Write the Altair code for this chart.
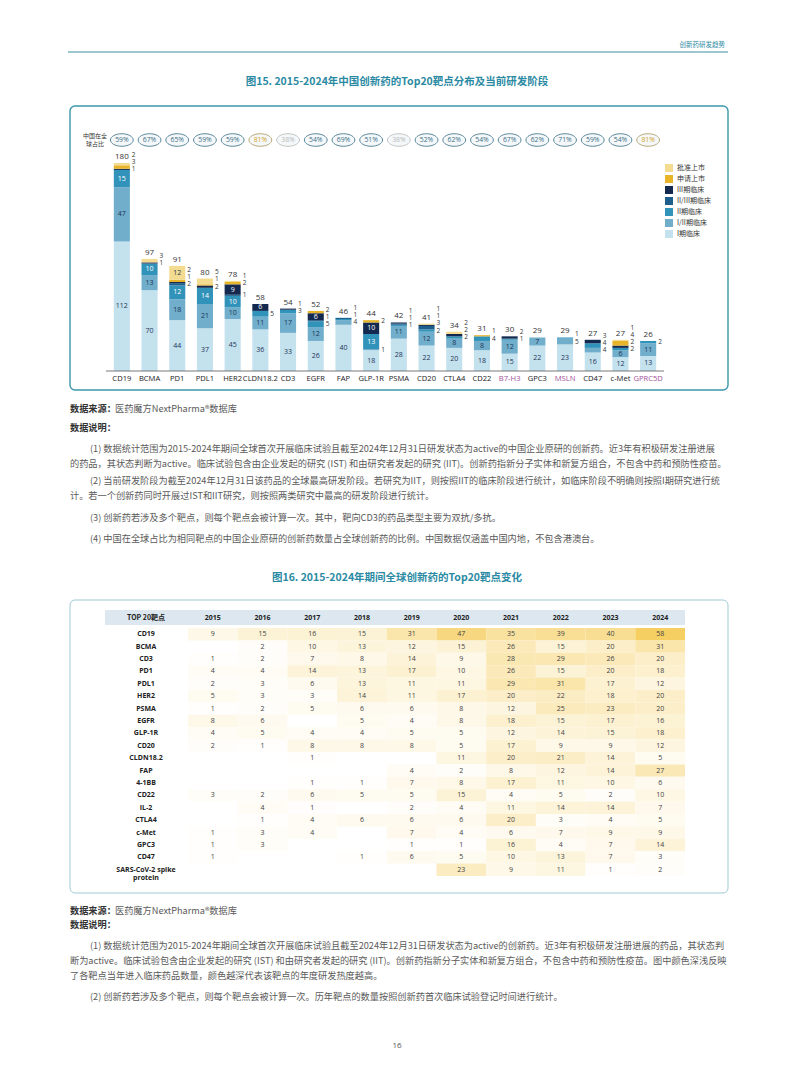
import altair as alt
import pandas as pd

CJK = "Noto Sans CJK SC"
LAT = "Open Sans"
TEAL = "#2b8aa3"
BODY = "#5a5a5a"
HEAD = "#333333"

# ---------------- Figure 15 data ----------------
targets = ["CD19", "BCMA", "PD1", "PDL1", "HER2", "CLDN18.2", "CD3", "EGFR", "FAP", "GLP-1R",
           "PSMA", "CD20", "CTLA4", "CD22", "B7-H3", "GPC3", "MSLN", "CD47", "c-Met", "GPRC5D"]
china_share = [59, 67, 65, 59, 59, 81, 38, 54, 69, 51, 38, 52, 62, 54, 67, 62, 71, 59, 54, 81]
purple_targets = ["B7-H3", "MSLN", "GPRC5D"]

stages = ["I期临床", "I/II期临床", "II期临床", "II/III期临床", "III期临床", "申请上市", "批准上市"]
stage_colors = ["#c4e1ee", "#70aecb", "#3193ba", "#1d5e8d", "#13294f", "#e8b42a", "#f3db8f"]

phase1 = [112, 70, 44, 37, 45, 36, 33, 26, 40, 18, 28, 22, 20, 18, 15, 22, 23, 16, 12, 13]
phase12 = [47, 13, 18, 21, 10, 11, 17, 12, 4, 1, 11, 12, 8, 8, 12, 7, 5, 4, 6, 11]
phase2 = [15, 10, 12, 14, 10, 5, 3, 5, 1, 13, 1, 2, 2, 4, 1, 0, 1, 4, 2, 2]
phase23 = [0, 0, 2, 0, 1, 0, 0, 1, 1, 0, 1, 3, 0, 0, 0, 0, 0, 0, 0, 0]
phase3 = [1, 1, 1, 2, 9, 6, 1, 6, 0, 10, 1, 1, 2, 0, 2, 0, 0, 3, 2, 0]
filing = [3, 0, 2, 1, 2, 0, 0, 2, 0, 2, 0, 0, 0, 1, 0, 0, 0, 0, 4, 0]
approved = [2, 3, 12, 5, 1, 0, 0, 0, 0, 0, 0, 1, 2, 0, 0, 0, 0, 0, 1, 0]

# ---------------- Figure 16 data ----------------
heat_targets = ["CD19", "BCMA", "CD3", "PD1", "PDL1", "HER2", "PSMA", "EGFR", "GLP-1R", "CD20",
                "CLDN18.2", "FAP", "4-1BB", "CD22", "IL-2", "CTLA4", "c-Met", "GPC3", "CD47",
                "SARS-CoV-2 spike protein"]
years = ["2015", "2016", "2017", "2018", "2019", "2020", "2021", "2022", "2023", "2024"]
N = None
y2015 = [9, N, 1, 4, 2, 5, 1, 8, 4, 2, N, N, N, 3, N, N, 1, 1, 1, N]
y2016 = [15, 2, 2, 4, 3, 3, 2, 6, 5, 1, N, N, N, 2, 4, 1, 3, 3, N, N]
y2017 = [16, 10, 7, 14, 6, 3, 5, N, 4, 8, 1, N, 1, 6, 1, 4, 4, N, N, N]
y2018 = [15, 13, 8, 13, 13, 14, 6, 5, 4, 8, N, N, 1, 5, N, 6, N, N, 1, N]
y2019 = [31, 12, 14, 17, 11, 11, 6, 4, 5, 8, N, 4, 7, 5, 2, 6, 7, 1, 6, N]
y2020 = [47, 15, 9, 10, 11, 17, 8, 8, 5, 5, 11, 2, 8, 15, 4, 6, 4, 1, 5, 23]
y2021 = [35, 26, 28, 26, 29, 20, 12, 18, 12, 17, 20, 8, 17, 4, 11, 20, 6, 16, 10, 9]
y2022 = [39, 15, 29, 15, 31, 22, 25, 15, 14, 9, 21, 12, 11, 5, 14, 3, 7, 4, 13, 11]
y2023 = [40, 20, 26, 20, 17, 18, 23, 17, 15, 9, 14, 14, 10, 2, 14, 4, 9, 7, 7, 1]
y2024 = [58, 31, 20, 18, 12, 20, 20, 16, 18, 12, 5, 27, 6, 10, 7, 5, 9, 14, 3, 2]
year_values = [y2015, y2016, y2017, y2018, y2019, y2020, y2021, y2022, y2023, y2024]

# ---------------- derived tables ----------------
stage_values = [phase1, phase12, phase2, phase23, phase3, filing, approved]
seg_rows = []
for ti, t in enumerate(targets):
    cum = 0
    prev = -1e9
    for si, st in enumerate(stages):
        v = stage_values[si][ti]
        if v <= 0:
            continue
        y0, y1 = cum, cum + v
        cum = y1
        mid = (y0 + y1) / 2
        inside = v >= 6
        if inside:
            ly = mid
        else:
            ly = max(mid, prev + 6.2)
            prev = ly
        seg_rows.append(dict(target=t, stage=st, value=v, y0=y0, y1=y1, ly=ly, inside=inside,
                             lc="#ffffff" if si in (2, 3, 4) else "#1d3557"))
seg = pd.DataFrame(seg_rows)
totals = pd.DataFrame({"target": targets,
                       "total": [sum(stage_values[s][i] for s in range(7)) for i in range(20)]})
xlab = pd.DataFrame({"target": targets,
                     "c": ["#a0529a" if t in purple_targets else "#222222" for t in targets]})
share_df = pd.DataFrame({
    "target": targets,
    "txt": [f"{v}%" for v in china_share],
    "tc": ["#d4a21c" if v >= 80 else ("#b8b8b8" if v < 50 else "#3c7088") for v in china_share],
    "sc": ["#b9a878" if v >= 80 else ("#c4c4c4" if v < 50 else "#5b8798") for v in china_share],
})

heat_rows = []
for yi, yr in enumerate(years):
    for ri, t in enumerate(heat_targets):
        v = year_values[yi][ri]
        if v is not None:
            heat_rows.append(dict(target=t, year=yr, cnt=v))
heat = pd.DataFrame(heat_rows)
rowlab = pd.DataFrame({"target": heat_targets,
                       "label": [t.replace(" protein", "\nprotein") for t in heat_targets]})

# ---------------- scales ----------------
xs = alt.Scale(domain=targets, range=[100, 654], paddingInner=0.42, paddingOuter=0.21)
ys = alt.Scale(domain=[0, 180], range=[363, 155], nice=False, zero=True)
cs = alt.Scale(domain=stages, range=stage_colors)
X = alt.X("target:N", scale=xs, axis=None)

hx = alt.Scale(domain=years, range=[180, 677], paddingInner=0, paddingOuter=0)
hy = alt.Scale(domain=heat_targets, range=[620, 868], paddingInner=0, paddingOuter=0)
hc = alt.Scale(type="linear", domain=[0, 58], range=["#ffffff", "#f5cf62"],
               interpolate="rgb", zero=True, nice=False)

layers = []


def txt(text, x, y, size=9.2, color=BODY, weight="normal", align="left", font=CJK):
    return alt.Chart(pd.DataFrame({"t": [text]})).mark_text(
        font=font, fontSize=size, color=color, fontWeight=weight, align=align,
        baseline="middle").encode(x=alt.value(x), y=alt.value(y), text="t:N")


def box(x0, x1, y0, y1, stroke, sw):
    return alt.Chart(pd.DataFrame({"a": [0]})).mark_rect(
        fill="white", fillOpacity=0, stroke=stroke, strokeWidth=sw, cornerRadius=5).encode(
        x=alt.value(x0), x2=alt.value(x1), y=alt.value(y0), y2=alt.value(y1))


# header
layers.append(txt("创新药研发趋势", 717, 37, size=6.5, color=TEAL, align="right"))
layers.append(alt.Chart(pd.DataFrame({"a": [0]})).mark_rule(color="#3a8fa0", strokeWidth=1.2).encode(
    x=alt.value(60), x2=alt.value(720), y=alt.value(44)))
layers.append(txt("图15. 2015-2024年中国创新药的Top20靶点分布及当前研发阶段", 389, 74, size=10.5,
                  color=TEAL, weight="bold", align="center"))

# box 1
layers.append(box(62, 720, 98, 382, "#3d97aa", 1.4))

# china share row
layers.append(txt("中国在全", 87, 128, size=6, color="#333", align="center"))
layers.append(txt("球占比", 87, 136, size=6, color="#333", align="center"))
ellipse = "M-1,0A1,0.55,0,1,1,1,0A1,0.55,0,1,1,-1,0Z"
layers.append(alt.Chart(share_df).mark_point(shape=ellipse, size=520, filled=False, fill="#f4f8fa",
                                             strokeWidth=1, opacity=1).encode(
    x=X, y=alt.value(132), stroke=alt.Stroke("sc:N", scale=None)))
layers.append(alt.Chart(share_df).mark_text(font=LAT, fontSize=6.8, baseline="middle").encode(
    x=X, y=alt.value(132), text="txt:N", color=alt.Color("tc:N", scale=None)))

# bars
layers.append(alt.Chart(seg).mark_bar().encode(
    x=X, y=alt.Y("y0:Q", scale=ys, axis=None), y2="y1:Q",
    color=alt.Color("stage:N", scale=cs, legend=None)))
layers.append(alt.Chart(seg[seg.inside]).mark_text(font=LAT, fontSize=7, baseline="middle").encode(
    x=X, y=alt.Y("ly:Q", scale=ys, axis=None), text="value:Q",
    color=alt.Color("lc:N", scale=None)))
layers.append(alt.Chart(seg[~seg.inside]).mark_text(font=LAT, fontSize=6.5, baseline="middle",
                                                    align="left", dx=10, color="#333").encode(
    x=X, y=alt.Y("ly:Q", scale=ys, axis=None), text="value:Q"))
layers.append(alt.Chart(totals).mark_text(font=LAT, fontSize=8, dy=-6, color="#333").encode(
    x=X, y=alt.Y("total:Q", scale=ys, axis=None), text="total:Q"))
layers.append(alt.Chart(pd.DataFrame({"a": [0]})).mark_rule(color="#555", strokeWidth=0.8).encode(
    x=alt.value(98), x2=alt.value(656), y=alt.value(363)))
layers.append(alt.Chart(xlab).mark_text(font=LAT, fontSize=7.6, baseline="middle").encode(
    x=X, y=alt.value(371), text="target:N", color=alt.Color("c:N", scale=None)))

# legend
leg_order = stages[::-1]
ly_scale = alt.Scale(type="point", domain=leg_order, range=[160, 226], padding=0)
leg_df = pd.DataFrame({"stage": leg_order})
layers.append(alt.Chart(leg_df).mark_square(size=64, opacity=1).encode(
    x=alt.value(661), y=alt.Y("stage:N", scale=ly_scale, axis=None),
    color=alt.Color("stage:N", scale=cs, legend=None)))
layers.append(alt.Chart(leg_df).mark_text(font=CJK, fontSize=7, align="left", baseline="middle",
                                          color="#333").encode(
    x=alt.value(669), y=alt.Y("stage:N", scale=ly_scale, axis=None), text="stage:N"))

# notes 1
layers.append(txt("数据来源：", 62, 401, color=HEAD, weight="bold"))
layers.append(txt("医药魔方NextPharma®数据库", 107, 401))
layers.append(txt("数据说明：", 62, 420, color=HEAD, weight="bold"))
notes1 = [
    ("(1) 数据统计范围为2015-2024年期间全球首次开展临床试验且截至2024年12月31日研发状态为active的中国企业原研的创新药。近3年有积极研发注册进展", 82, 441),
    ("的药品，其状态判断为active。临床试验包含由企业发起的研究 (IST) 和由研究者发起的研究 (IIT)。创新药指新分子实体和新复方组合，不包含中药和预防性疫苗。", 62, 456),
    ("(2) 当前研发阶段为截至2024年12月31日该药品的全球最高研发阶段。若研究为IIT，则按照IIT的临床阶段进行统计，如临床阶段不明确则按照I期研究进行统", 82, 473),
    ("计。若一个创新药同时开展过IST和IIT研究，则按照两类研究中最高的研发阶段进行统计。", 62, 488),
    ("(3) 创新药若涉及多个靶点，则每个靶点会被计算一次。其中，靶向CD3的药品类型主要为双抗/多抗。", 82, 510),
    ("(4) 中国在全球占比为相同靶点的中国企业原研的创新药数量占全球创新药的比例。中国数据仅涵盖中国内地，不包含港澳台。", 82, 531),
]
for t, x, y in notes1:
    layers.append(txt(t, x, y))

# Figure 16
layers.append(txt("图16. 2015-2024年期间全球创新药的Top20靶点变化", 389, 570, size=10.5,
                  color=TEAL, weight="bold", align="center"))
layers.append(box(62, 720, 592, 885, "#9fcbd6", 1))
layers.append(alt.Chart(pd.DataFrame({"a": [0]})).mark_rect(fill="#dde7ef").encode(
    x=alt.value(97), x2=alt.value(677), y=alt.value(602), y2=alt.value(617)))
layers.append(txt("TOP 20靶点", 138, 609.5, size=7, color="#222", weight="bold", align="center"))
layers.append(alt.Chart(pd.DataFrame({"year": years})).mark_text(
    font=LAT, fontSize=7, fontWeight="bold", color="#222", baseline="middle").encode(
    x=alt.X("year:N", scale=hx, axis=None), y=alt.value(609.5), text="year:N"))
layers.append(alt.Chart(heat).mark_rect().encode(
    x=alt.X("year:N", scale=hx, axis=None), y=alt.Y("target:N", scale=hy, axis=None),
    fill=alt.Fill("cnt:Q", scale=hc, legend=None)))
layers.append(alt.Chart(heat).mark_text(font=LAT, fontSize=7, color="#444", baseline="middle").encode(
    x=alt.X("year:N", scale=hx, axis=None), y=alt.Y("target:N", scale=hy, axis=None),
    text="cnt:Q"))
layers.append(alt.Chart(rowlab).mark_text(font=LAT, fontSize=7, fontWeight="bold", color="#222",
                                          baseline="middle", lineBreak="\n", lineHeight=8).encode(
    x=alt.value(138), y=alt.Y("target:N", scale=hy, axis=None), text="label:N"))

# notes 2
layers.append(txt("数据来源：", 62, 903, color=HEAD, weight="bold"))
layers.append(txt("医药魔方NextPharma®数据库", 107, 903))
layers.append(txt("数据说明：", 62, 917, color=HEAD, weight="bold"))
notes2 = [
    ("(1) 数据统计范围为2015-2024年期间全球首次开展临床试验且截至2024年12月31日研发状态为active的创新药。近3年有积极研发注册进展的药品，其状态判", 82, 938),
    ("断为active。临床试验包含由企业发起的研究 (IST) 和由研究者发起的研究 (IIT)。创新药指新分子实体和新复方组合，不包含中药和预防性疫苗。图中颜色深浅反映", 62, 953),
    ("了各靶点当年进入临床药品数量，颜色越深代表该靶点的年度研发热度越高。", 62, 968),
    ("(2) 创新药若涉及多个靶点，则每个靶点会被计算一次。历年靶点的数量按照创新药首次临床试验登记时间进行统计。", 82, 989),
]
for t, x, y in notes2:
    layers.append(txt(t, x, y))

layers.append(txt("16", 389, 1038, size=8, color="#555", align="center", font=LAT))

chart = alt.layer(*layers).resolve_scale(
    x="independent", y="independent", color="independent", stroke="independent",
    fill="independent"
).properties(
    width=777, height=1061, autosize=alt.AutoSizeParams(type="none"), padding=0,
    background="white"
).configure_view(strokeWidth=0)

chart.save("out.html", embed_options={"renderer": "svg", "actions": False})
